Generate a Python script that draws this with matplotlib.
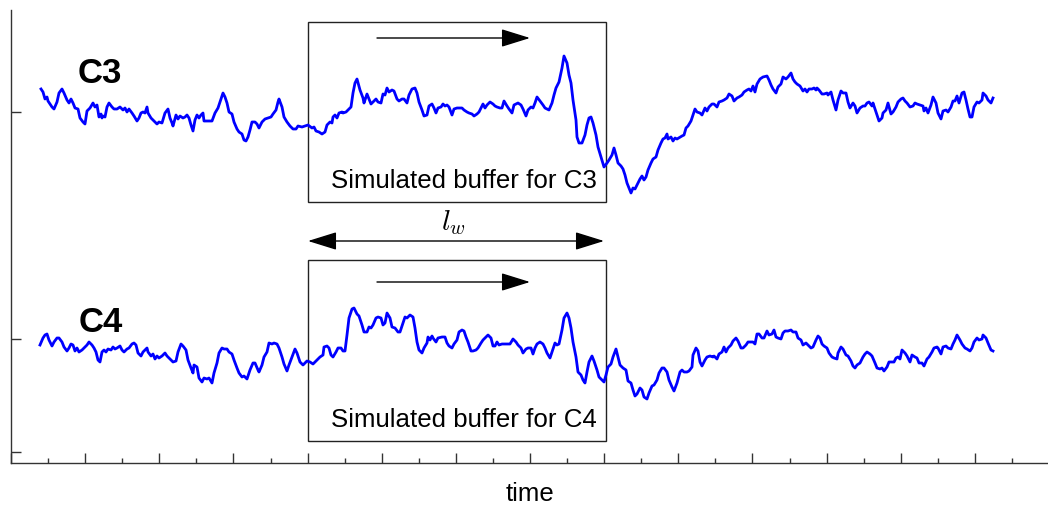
import numpy as np
import matplotlib
matplotlib.use('Agg')
import matplotlib.pyplot as plt
from matplotlib.patches import Rectangle
from matplotlib.ticker import MultipleLocator

plt.rcParams['font.family'] = ['Liberation Sans', 'DejaVu Sans']
plt.rcParams['mathtext.fontset'] = 'cm'

# time in samples, amplitude in arbitrary units
c3_time = [30, 32, 34, 36, 37, 41, 43, 46, 48, 51, 53, 56, 58, 60, 62, 64, 67, 69, 72, 74,
           76, 79, 82, 84, 86, 88, 90, 91, 92, 94, 96, 98, 101, 103, 106, 109, 112, 114, 116, 118,
           121, 123, 126, 128, 130, 132, 134, 136, 137, 140, 142, 146, 148, 151, 154, 157, 159, 161, 162, 165,
           167, 169, 172, 174, 176, 178, 180, 182, 184, 186, 188, 190, 192, 193, 196, 201, 204, 207, 210, 212,
           214, 216, 218, 221, 223, 226, 228, 231, 233, 235, 237, 239, 241, 244, 246, 248, 251, 254, 257, 260,
           262, 265, 267, 268, 271, 273, 276, 279, 282, 285, 287, 291, 294, 297, 301, 303, 305, 308, 311, 314,
           316, 319, 321, 322, 324, 326, 328, 331, 332, 335, 337, 340, 342, 344, 346, 349, 352, 353, 356, 358,
           360, 362, 365, 367, 370, 372, 374, 376, 378, 381, 383, 386, 388, 391, 393, 396, 398, 401, 404, 406,
           408, 411, 413, 416, 418, 421, 423, 425, 427, 430, 432, 434, 436, 438, 441, 443, 446, 448, 451, 453,
           456, 458, 461, 463, 466, 468, 471, 472, 474, 476, 479, 482, 484, 486, 489, 491, 493, 496, 498, 501,
           503, 505, 507, 510, 512, 515, 517, 520, 522, 524, 526, 529, 532, 534, 538, 541, 543, 545, 548, 551,
           553, 556, 558, 560, 562, 565, 566, 568, 571, 574, 576, 578, 580, 582, 585, 587, 590, 592, 593, 596,
           598, 601, 603, 605, 607, 610, 612, 614, 616, 618, 620, 622, 624, 626, 629, 631, 633, 635, 637, 640,
           642, 645, 647, 650, 652, 654, 656, 657, 660, 662, 664, 666, 671, 673, 675, 677, 680, 682, 684, 686,
           689, 691, 694, 696, 698, 701, 703, 706, 708, 711, 713, 716, 718, 721, 723, 726, 728, 731, 733, 736,
           738, 740, 742, 744, 746, 749, 752, 756, 758, 760, 762, 765, 767, 770, 772, 775, 777, 780, 782, 784,
           786, 789, 792, 794, 796, 798, 801, 803, 805, 806, 808, 811, 813, 816, 817, 820, 822, 825, 827, 830,
           832, 835, 837, 839, 842, 844, 846, 849, 852, 854, 856, 858, 861, 862, 865, 868, 871, 872, 875, 877,
           880, 882, 885, 887, 890, 892, 894, 896, 899, 902, 904, 906, 909, 912, 913, 915, 917, 920, 922, 925,
           927, 930, 932, 935, 937, 940, 942, 944, 946, 948, 951, 953, 955, 957, 959, 961, 963, 966, 968, 971,
           972, 975, 977, 980, 982]
c3_amp = [23, 20, 13, 15, 11, 5, 3, 10, 19, 23, 19, 12, 9, 13, 9, 4, 3, -6, -10, -12,
          1, 4, 9, 5, 7, -5, -2, -6, -4, -5, 5, 9, 5, 3, 3, 5, 2, 4, 0, 3,
          -1, -4, -9, -6, -1, 0, -1, 5, -1, -6, -8, -12, -10, -11, -1, 3, -6, -11, -14, -3,
          -7, -4, -6, -5, -3, -6, -13, -19, -8, -3, -6, -3, -1, -9, -9, -9, -1, 4, 13, 19,
          15, 9, 0, -2, -10, -17, -20, -22, -28, -29, -25, -18, -10, -10, -12, -16, -10, -7, -6, -5,
          -2, 2, 10, 13, 5, -5, -10, -14, -17, -17, -14, -15, -14, -13, -16, -15, -19, -20, -22, -20,
          -13, -10, -11, -5, -3, -6, -1, 0, -1, 0, 2, 5, 19, 29, 33, 22, 14, 9, 18, 13,
          8, 10, 13, 10, 9, 18, 17, 24, 20, 22, 21, 13, 11, 13, 13, 9, 17, 23, 24, 19,
          10, 2, -4, -3, 6, 8, 4, -1, 4, 5, 8, 6, 7, 5, -3, 3, 4, 4, 4, 2,
          0, -1, -2, -4, -2, 0, 6, 8, 4, 7, 10, 8, 6, 5, 4, 4, 11, 6, 3, -1,
          7, 8, 9, 7, 3, -4, 2, 5, 4, 9, 15, 11, 7, 4, 2, 9, 17, 24, 30, 44,
          56, 49, 37, 29, 12, -8, -25, -31, -31, -23, -13, -6, -5, -11, -23, -35, -45, -52, -55, -51,
          -48, -43, -36, -43, -51, -54, -57, -63, -71, -76, -81, -76, -77, -73, -67, -64, -68, -65, -58, -51,
          -47, -45, -38, -31, -27, -26, -22, -27, -25, -29, -26, -27, -24, -23, -16, -14, -9, -3, 3, 0,
          -1, -3, 4, 1, 5, 8, 8, 5, 10, 11, 12, 14, 18, 16, 11, 14, 15, 17, 20, 22,
          23, 21, 26, 20, 28, 33, 35, 36, 32, 27, 23, 19, 25, 28, 35, 33, 35, 39, 33, 30,
          28, 26, 21, 23, 20, 23, 23, 24, 22, 24, 22, 18, 18, 19, 17, 20, 12, 2, 12, 21,
          19, 19, 10, 4, 9, 6, -1, 4, 6, 6, 9, 10, 6, 9, 0, -9, -6, -1, 2, 9,
          -2, 0, 5, 10, 13, 14, 11, 9, 5, 6, 9, 8, 7, 6, 1, 4, -1, 7, 15, 9,
          -1, -7, 1, 2, 0, 5, 11, 11, 16, 9, 19, 20, 12, 3, -5, -5, 5, 10, 9, 12,
          19, 16, 12, 9, 14]

c4_time = [29, 32, 34, 36, 38, 41, 43, 46, 48, 51, 53, 56, 58, 60, 62, 64, 66, 68, 71, 73,
           76, 78, 81, 83, 85, 87, 89, 91, 93, 95, 97, 100, 102, 104, 106, 109, 111, 113, 116, 118,
           121, 123, 125, 127, 130, 132, 136, 137, 140, 142, 144, 146, 148, 151, 154, 156, 159, 162, 165, 167,
           170, 172, 175, 177, 180, 182, 183, 186, 188, 191, 193, 196, 198, 201, 203, 206, 208, 211, 213, 216,
           218, 221, 223, 226, 228, 231, 233, 236, 239, 242, 244, 247, 248, 251, 253, 256, 258, 261, 263, 266,
           268, 271, 273, 276, 278, 281, 284, 286, 289, 292, 294, 296, 299, 302, 304, 306, 309, 312, 313, 316,
           318, 320, 322, 325, 327, 330, 332, 334, 336, 338, 341, 343, 346, 348, 351, 353, 356, 358, 360, 362,
           365, 367, 370, 372, 374, 376, 379, 381, 384, 387, 389, 392, 394, 396, 399, 402, 404, 406, 408, 411,
           413, 416, 417, 419, 421, 422, 425, 427, 431, 434, 436, 438, 441, 443, 446, 448, 451, 453, 455, 457,
           460, 462, 465, 467, 470, 472, 475, 477, 480, 482, 484, 486, 488, 491, 493, 496, 499, 502, 505, 507,
           510, 512, 515, 517, 520, 522, 524, 526, 529, 532, 534, 536, 539, 541, 544, 546, 548, 551, 553, 556,
           558, 560, 562, 565, 567, 570, 572, 574, 576, 578, 581, 583, 586, 588, 591, 593, 595, 597, 600, 602,
           605, 607, 609, 612, 615, 617, 620, 622, 624, 626, 629, 631, 633, 636, 638, 641, 643, 646, 648, 651,
           653, 656, 658, 661, 663, 666, 669, 671, 673, 676, 678, 681, 682, 685, 687, 689, 691, 694, 696, 699,
           702, 703, 706, 708, 711, 713, 715, 717, 720, 722, 725, 727, 730, 732, 735, 737, 740, 742, 744, 746,
           748, 751, 753, 756, 758, 761, 763, 765, 767, 770, 772, 774, 777, 780, 782, 785, 787, 790, 792, 795,
           797, 800, 802, 805, 807, 809, 811, 813, 816, 818, 821, 823, 826, 827, 830, 832, 835, 837, 840, 842,
           844, 846, 849, 852, 854, 856, 859, 861, 864, 866, 869, 871, 873, 876, 878, 881, 883, 885, 887, 889,
           891, 894, 896, 899, 901, 904, 906, 908, 911, 913, 916, 918, 921, 923, 926, 927, 930, 932, 935, 937,
           940, 942, 944, 946, 949, 951, 954, 956, 959, 961, 963, 966, 968, 971, 972, 975, 977, 980, 982]
c4_amp = [-6, 1, 4, 5, -1, -7, -3, 1, 1, -3, -8, -12, -9, -5, -6, -12, -9, -13, -11, -9,
          -6, -3, -6, -9, -13, -21, -23, -13, -11, -13, -10, -11, -8, -10, -9, -7, -11, -13, -10, -9,
          -5, -4, -6, -14, -17, -13, -9, -13, -17, -15, -20, -17, -19, -17, -14, -17, -20, -23, -22, -13,
          -5, -7, -11, -21, -29, -34, -26, -28, -39, -43, -39, -40, -39, -44, -34, -24, -14, -9, -10, -10,
          -13, -15, -21, -29, -34, -38, -37, -40, -31, -24, -24, -31, -33, -26, -18, -13, -4, -5, -4, -5,
          -9, -18, -25, -32, -26, -18, -10, -14, -23, -26, -24, -22, -23, -25, -23, -21, -18, -16, -8, -7,
          -9, -16, -18, -13, -9, -9, -12, -12, 4, 21, 30, 31, 25, 23, 14, 7, 7, 12, 11, 14,
          21, 22, 21, 14, 16, 26, 21, 12, 11, 7, 7, 16, 22, 21, 24, 22, 11, -3, -11, -14,
          -9, -4, 2, -1, 3, 1, -3, 1, 2, 2, -4, -7, -9, -5, -1, 7, 9, 8, 2, -3,
          -12, -12, -11, -9, -4, -1, 2, 4, 1, -7, -7, -3, -6, -5, -5, -5, -5, 0, -3, -6,
          -9, -14, -10, -9, -9, -15, -9, -5, -3, -5, -9, -14, -19, -13, -4, -6, -5, 9, 21, 26,
          21, 11, -3, -18, -33, -36, -41, -44, -33, -23, -17, -22, -31, -38, -41, -43, -36, -28, -25, -18,
          -10, -18, -26, -29, -31, -42, -44, -51, -57, -55, -49, -51, -58, -60, -54, -47, -46, -41, -34, -29,
          -29, -33, -41, -48, -52, -44, -33, -31, -33, -33, -32, -28, -16, -9, -12, -23, -27, -21, -18, -17,
          -18, -17, -20, -15, -13, -8, -13, -9, -6, -2, 1, -2, -9, -9, -6, -3, -3, -3, -5, 5,
          5, 1, 1, 8, 4, 5, 9, 2, 1, 0, 6, 8, 8, 9, 7, 7, 1, -1, -6, -4,
          -6, -9, -8, -1, 3, 1, -5, -7, -9, -14, -18, -19, -20, -14, -8, -10, -16, -17, -22, -27,
          -29, -26, -24, -18, -15, -13, -15, -17, -24, -29, -30, -29, -32, -28, -23, -23, -23, -19, -18, -20,
          -11, -14, -17, -23, -16, -18, -19, -24, -24, -27, -20, -18, -13, -9, -8, -9, -15, -8, -7, -9,
          -10, -5, -1, 4, -1, -5, -9, -10, -12, -9, -3, 1, -1, 0, 4, 1, -4, -11, -12]

channel_names = ['C3', 'C4']
c3_offset, c4_offset = 340, 113
buffer_start, buffer_end = 297, 595

fig = plt.figure(figsize=(10.48, 5.07), dpi=100)
ax = fig.add_axes([11 / 1048, 44 / 507, 1038 / 1048, 453 / 507])

ax.plot(c3_time, c3_offset + np.array(c3_amp), color='#0000ff', lw=2.0)
ax.plot(c4_time, c4_offset + np.array(c4_amp), color='#0000ff', lw=2.0)

ax.set_xlim(0, 1038)
ax.set_ylim(-11, 442)

# buffer boxes
ax.add_patch(Rectangle((buffer_start, 250), buffer_end - buffer_start, 180.5,
                       fill=False, ec='#222222', lw=1.0))
ax.add_patch(Rectangle((buffer_start, 11), buffer_end - buffer_start, 181.5,
                       fill=False, ec='#222222', lw=1.0))

head = dict(arrowstyle='-|>,head_length=0.9,head_width=0.28', color='black',
            lw=1.0, mutation_scale=20, shrinkA=0, shrinkB=0)
ax.annotate('', xy=(519, 414), xytext=(366, 414), arrowprops=head)
ax.annotate('', xy=(519, 170), xytext=(366, 170), arrowprops=head)
ax.annotate('', xy=(593, 211), xytext=(297, 211),
            arrowprops=dict(head, arrowstyle='<|-|>,head_length=0.9,head_width=0.28'))
ax.text(442, 229, r'$l_w$', fontsize=21, ha='center', va='center')

ax.text(586, 264, 'Simulated buffer for C3', fontsize=18.6, ha='right', va='baseline')
ax.text(586, 25, 'Simulated buffer for C4', fontsize=18.6, ha='right', va='baseline')

ax.text(67, 369, channel_names[0], fontsize=25, fontweight='bold', va='baseline')
ax.text(68, 120, channel_names[1], fontsize=25, fontweight='bold', va='baseline')

for side in ['top', 'right']:
    ax.spines[side].set_visible(False)
for side in ['left', 'bottom']:
    ax.spines[side].set_color('#333333')
    ax.spines[side].set_linewidth(1.0)

ax.xaxis.set_major_locator(MultipleLocator(1038 / 14))
ax.xaxis.set_minor_locator(MultipleLocator(1038 / 28))
ax.set_yticks([0, c4_offset, c3_offset])
ax.tick_params(which='both', direction='in', labelbottom=False, labelleft=False,
               color='#333333', width=1.0)
ax.tick_params(which='major', length=7.5)
ax.tick_params(which='minor', length=3.6)

ax.set_xlabel('time', fontsize=18.5, labelpad=14)

fig.savefig('out.png', dpi=100)
